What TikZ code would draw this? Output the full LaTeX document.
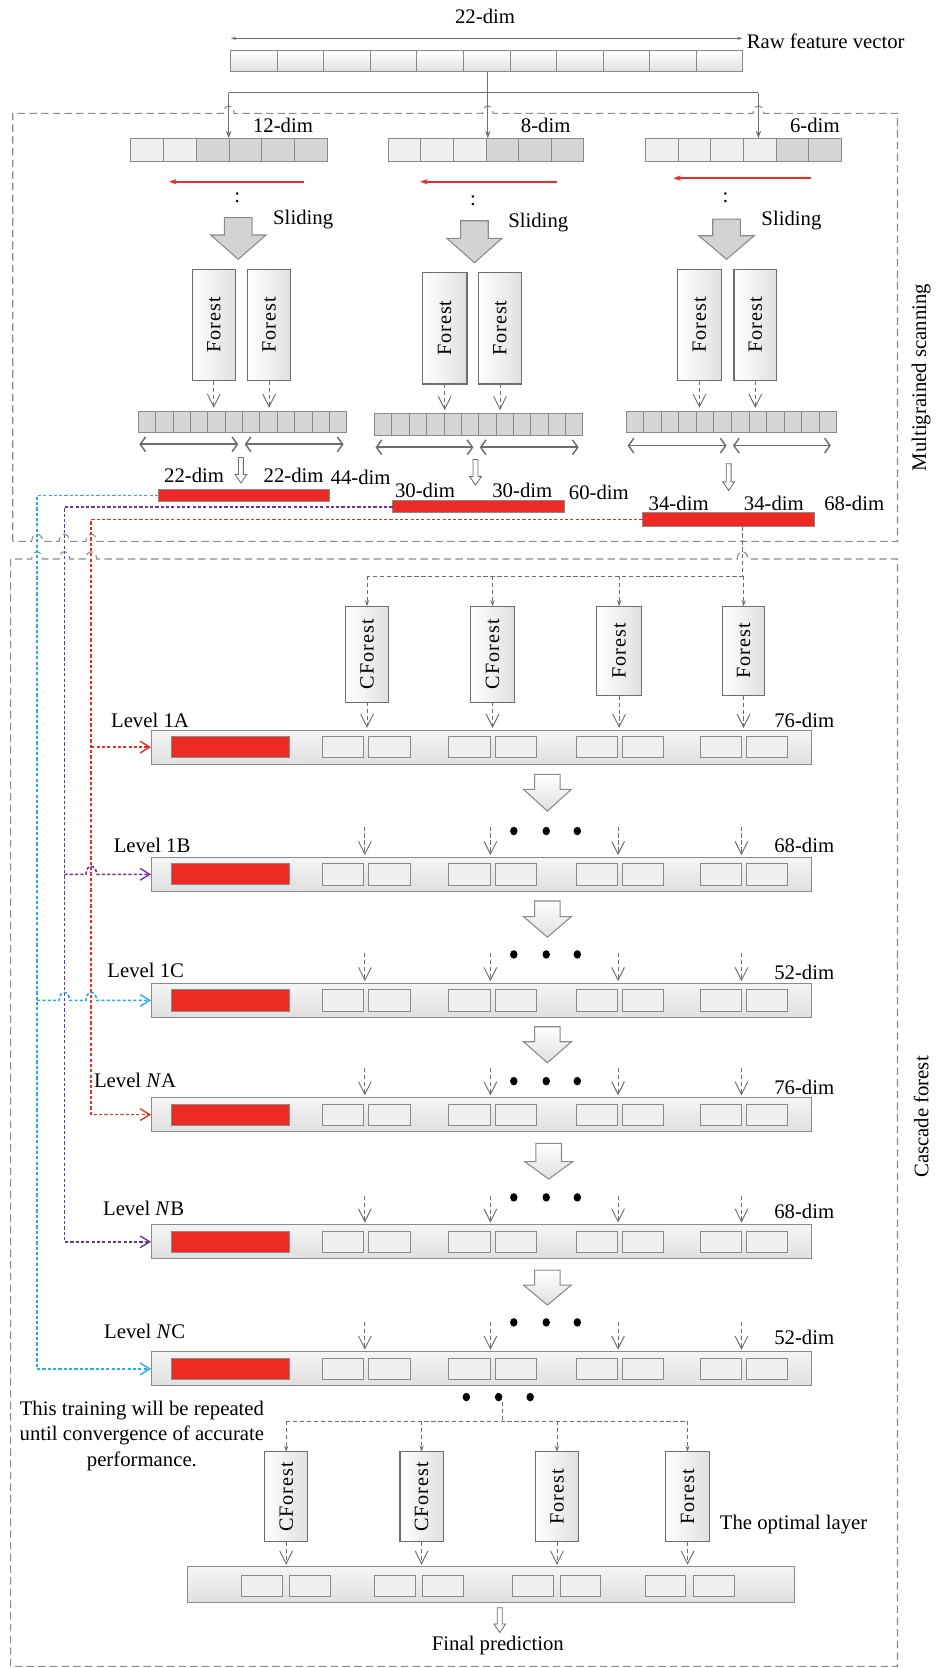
\documentclass[tikz,border=0pt]{standalone}
\usepackage{graphicx}
\usepackage{fontspec}
\setmainfont{Liberation Serif}
\newfontfamily\boxfont{Liberation Serif}[LetterSpace=5]
\usetikzlibrary{arrows.meta,calc}
\definecolor{cyanl}{HTML}{22AEE8}
\definecolor{purpl}{HTML}{7030A0}
\definecolor{redl}{HTML}{EE2A24}
\definecolor{bord}{HTML}{8A8A8A}
\definecolor{dbord}{HTML}{6E6E6E}
\definecolor{darkc}{HTML}{D6D6D6}
\definecolor{lightc}{HTML}{F0F0F0}
\definecolor{lightc2}{HTML}{E0E0E0}
\definecolor{blockf}{HTML}{D3D3D3}
\newcommand{\blockarr}[7]{\draw[#7] (#1-#5,#2) -- (#1+#5,#2) -- (#1+#5,#3) -- (#1+#6,#3) -- (#1,#4) -- (#1-#6,#3) -- (#1-#5,#3) -- cycle;}
\newcommand{\hollowarr}[3]{\draw[dbord, line width=0.8pt, fill=white] (#1-2.3,#2) -- (#1+2.3,#2) -- (#1+2.3,#3-8) -- (#1+5.5,#3-8) -- (#1,#3) -- (#1-5.5,#3-8) -- (#1-2.3,#3-8) -- cycle;}
\newcommand{\lvlrow}[2]{%
  \node[lvlbar] (#1) at (452.5,#2) {};
  \node[redr, minimum width=110.5pt, minimum height=20pt] (#1r) at (216.8,#2) {};
  \foreach \xx [count=\j] in {322.5,366.2,441.5,485.2,561,604.5,677.5,721} {\node[sbox] (#1s\j) at (\xx,#2) {};}
}
\newcommand{\lvlin}[2]{%
  \foreach \xx in {343,461,581,697} {\draw[gdash,vtip,shorten >=2pt] (\xx,#2) -- (\xx,#2 |- #1.north);}
}
\newcommand{\threedots}[4]{%
  \fill (#1,#4) ellipse (3.5pt and 4pt);
  \fill (#2,#4) ellipse (3.5pt and 4pt);
  \fill (#3,#4) ellipse (3.5pt and 4pt);
}
\begin{document}
\begin{tikzpicture}[x=1pt,y=-1pt,
  every node/.style={inner sep=0pt, outer sep=0pt},
  lab/.style={font=\fontsize{19.5}{22}\selectfont},
  cellL/.style={draw=bord, line width=0.8pt, top color=white, bottom color=lightc2},
  cellD/.style={draw=bord, line width=0.8pt, fill=darkc},
  vbox/.style={draw=dbord, line width=1.1pt, left color=white, right color=lightc2, font=\boxfont\fontsize{19}{22}\selectfont},
  lvlbar/.style={draw=bord, line width=1pt, top color=white!96!black, bottom color=lightc2, minimum width=621pt, minimum height=32pt},
  redr/.style={draw=bord, line width=0.9pt, fill=redl},
  sbox/.style={draw=bord, line width=0.8pt, fill=lightc, minimum width=39pt, minimum height=20pt},
  gdash/.style={draw=dbord, line width=0.9pt, dash pattern=on 4pt off 2.5pt},
  boxdash/.style={draw=bord, line width=1pt, dash pattern=on 7pt off 4pt},
  vtip/.style={-{Straight Barb[length=12pt,width=12pt,line width=0.9pt]}},
  ftip/.style={-{Stealth[length=7pt,width=5pt]}},
  colline/.style={line width=1.5pt, dash pattern=on 3pt off 2pt, -{Straight Barb[length=9pt,width=11pt,line width=1.3pt]}},
  dblarr/.style={draw=dbord, line width=1.6pt, {Straight Barb[length=5pt,width=14pt,line width=1.4pt]}-{Straight Barb[length=5pt,width=14pt,line width=1.4pt]}},
  bigarrA/.style={draw=bord, line width=1pt, fill=blockf},
  bigarrB/.style={draw=bord, line width=1pt, top color=white, bottom color=lightc2}
]
\useasboundingbox (0,0) rectangle (879,1568);

% ---------- dashed frames ----------
\draw[boxdash] (12,509) -- (12,106.6) -- (210,106.6) .. controls (210,97.5) and (220,97.5) .. (220,106.6)
  -- (453.6,106.6) .. controls (453.6,97.5) and (463.6,97.5) .. (463.6,106.6)
  -- (708,106.6) .. controls (708,97.5) and (718,97.5) .. (718,106.6)
  -- (843.7,106.6) -- (843.7,509)
  -- (90.8,509) .. controls (90.8,500) and (80.8,500) .. (80.8,509)
  -- (65.5,509) .. controls (65.5,500) and (55.5,500) .. (55.5,509)
  -- (39.8,509) .. controls (39.8,500) and (29.8,500) .. (29.8,509) -- cycle;
\draw[boxdash] (10,1566.5) -- (10,525.5) -- (29.8,525.5) .. controls (29.8,516.5) and (39.8,516.5) .. (39.8,525.5)
  -- (55.5,525.5) .. controls (55.5,516.5) and (65.5,516.5) .. (65.5,525.5)
  -- (80.8,525.5) .. controls (80.8,516.5) and (90.8,516.5) .. (90.8,525.5)
  -- (693,525.5) .. controls (693,516.5) and (703,516.5) .. (703,525.5)
  -- (843.7,525.5) -- (843.7,1566.5) -- cycle;
\node[lab, rotate=90] (msl) at (866,355) {Multigrained scanning};
\node[lab, rotate=90] (cfl) at (866,1050) {Cascade forest};

% ---------- raw feature vector ----------
\node[lab] (d22) at (456,15.5) {22-dim};
\coordinate (tl) at (217,36);
\coordinate (tr) at (698,36);
\draw[dbord, line width=1pt, {Stealth[length=5pt,width=3pt]}-{Stealth[length=5pt,width=3pt]}] (tl) -- (tr);
\node[lab, anchor=west] (rfv) at (702,39) {Raw feature vector};
\foreach \k in {0,...,10} {\node[cellL, minimum width=43.73pt, minimum height=19.5pt] (rw\k) at (217+43.73*\k+21.865,57.5) {};}
\node[minimum width=481pt, minimum height=19.5pt] (raw) at (457.5,57.5) {};
\coordinate (jn) at (458.6,87);
\coordinate (jl) at (215,87);
\coordinate (jr) at (713,87);
\draw[dbord, line width=1.2pt] (raw.south -| jn) -- (jn);
\draw[dbord, line width=1.2pt] (jl) -- (jr);

% ---------- three windows ----------
\foreach \k in {0,...,5} {
  \ifnum\k<2 \def\fc{lightc}\else\def\fc{darkc}\fi
  \node[draw=bord, line width=0.8pt, fill=\fc, minimum width=30.8pt, minimum height=22pt] (sa\k) at (123+\k*30.8+15.4,141) {};
}
\foreach \k in {0,...,5} {
  \ifnum\k<3 \def\fc{lightc}\else\def\fc{darkc}\fi
  \node[draw=bord, line width=0.8pt, fill=\fc, minimum width=30.6pt, minimum height=22pt] (sb\k) at (365+\k*30.6+15.3,141) {};
}
\foreach \k in {0,...,5} {
  \ifnum\k<4 \def\fc{lightc}\else\def\fc{darkc}\fi
  \node[draw=bord, line width=0.8pt, fill=\fc, minimum width=30.6pt, minimum height=22pt] (sc\k) at (607+\k*30.6+15.3,141) {};
}
\draw[dbord, line width=1.2pt, ftip] (jl) -- (jl |- sa0.north);
\draw[dbord, line width=1.2pt, ftip] (jn) -- (jn |- sb0.north);
\draw[dbord, line width=1.2pt, ftip] (jr) -- (jr |- sc0.north);
\node[lab] (l12) at (266,117.5) {12-dim};
\node[lab] (l8) at (513,117.5) {8-dim};
\node[lab] (l6) at (766,117.5) {6-dim};

% red sliding arrows
\draw[redl, line width=1.8pt, -{Stealth[length=7pt,width=5pt]}] (286,170.8) -- (159,170.8);
\draw[redl, line width=1.8pt, -{Stealth[length=7pt,width=5pt]}] (524,170.8) -- (395,170.8);
\draw[redl, line width=1.8pt, -{Stealth[length=7pt,width=5pt]}] (762,167.5) -- (633,167.5);
\node[lab] (ca) at (223,186) {:};
\node[lab] (cb) at (444.6,189) {:};
\node[lab] (cc) at (682,186) {:};

% sliding block arrows
\blockarr{224}{204.6}{220.9}{243.8}{13}{26}{bigarrA}
\blockarr{446}{207.5}{224}{247}{13}{26}{bigarrA}
\blockarr{683}{206}{221.6}{243.8}{13}{26}{bigarrA}
\node[lab] (sla) at (285,206) {Sliding};
\node[lab] (slb) at (506,209) {Sliding};
\node[lab] (slc) at (744,207) {Sliding};

% forest boxes of scanning
\node[vbox, minimum width=40pt, minimum height=105pt] (fa1) at (201,305.5) {\rotatebox{90}{Forest}};
\node[vbox, minimum width=40pt, minimum height=105pt] (fa2) at (253,305.5) {\rotatebox{90}{Forest}};
\node[vbox, minimum width=42pt, minimum height=105pt] (fb1) at (418,308.5) {\rotatebox{90}{Forest}};
\node[vbox, minimum width=41pt, minimum height=105pt] (fb2) at (470,308.5) {\rotatebox{90}{Forest}};
\node[vbox, minimum width=41pt, minimum height=105pt] (fc1) at (657.5,305.5) {\rotatebox{90}{Forest}};
\node[vbox, minimum width=40pt, minimum height=105pt] (fc2) at (710,305.5) {\rotatebox{90}{Forest}};

% long output vectors
\foreach \k in {0,...,11} {\node[cellD, minimum width=16.33pt, minimum height=20pt] (va\k) at (130+16.33*\k+8.165,396.4) {};}
\foreach \k in {0,...,11} {\node[cellD, minimum width=16.33pt, minimum height=21pt] (vb\k) at (352+16.33*\k+8.165,399.1) {};}
\foreach \k in {0,...,11} {\node[cellD, minimum width=16.5pt, minimum height=20pt] (vc\k) at (588.6+16.5*\k+8.25,396.4) {};}
\foreach \f in {fa1,fa2} {\draw[gdash,vtip,shorten >=3pt] (\f.south) -- (\f.south |- va0.north);}
\foreach \f in {fb1,fb2} {\draw[gdash,vtip,shorten >=3pt] (\f.south) -- (\f.south |- vb0.north);}
\foreach \f in {fc1,fc2} {\draw[gdash,vtip,shorten >=3pt] (\f.south) -- (\f.south |- vc0.north);}

% double arrows
\draw[dblarr] (131,417.7) -- (224,417.7);
\draw[dblarr] (230,417.7) -- (323,417.7);
\draw[dblarr] (353,420.5) -- (445,420.5);
\draw[dblarr] (451,420.5) -- (544,420.5);
\draw[dblarr] (590,418.9) -- (683,418.9);
\draw[dblarr] (689,418.9) -- (781,418.9);

% hollow arrows
\hollowarr{226.5}{430}{454}
\hollowarr{447}{432}{456}
\hollowarr{685}{436}{461}

% concatenated red bars
\node[redr, minimum width=161.4pt, minimum height=11.5pt] (rbL) at (229.3,465.7) {};
\node[redr, minimum width=162pt, minimum height=11.5pt] (rbM) at (450,476.4) {};
\node[redr, minimum width=162pt, minimum height=12.5pt] (rbR) at (685,488.3) {};
\node[lab] (da1) at (182.5,447) {22-dim};
\node[lab] (da2) at (276,447) {22-dim};
\node[lab] (da3) at (339,449) {44-dim};
\node[lab] (db1) at (399.5,461) {30-dim};
\node[lab] (db2) at (491,461) {30-dim};
\node[lab] (db3) at (563,463) {60-dim};
\node[lab] (dc1) at (638,473) {34-dim};
\node[lab] (dc2) at (727.5,473) {34-dim};
\node[lab] (dc3) at (803,473) {68-dim};

% ---------- cascade forest ----------
\node[vbox, minimum width=40.4pt, minimum height=90pt] (cfa) at (345,615) {\rotatebox{90}{CForest}};
\node[vbox, minimum width=42pt, minimum height=90pt] (cfb) at (463,615) {\rotatebox{90}{CForest}};
\node[vbox, minimum width=42pt, minimum height=84pt] (cfc) at (582,612) {\rotatebox{90}{Forest}};
\node[vbox, minimum width=40pt, minimum height=84pt] (cfd) at (699,612) {\rotatebox{90}{Forest}};
\coordinate (t0) at (698,495);
\coordinate (hb) at (698,541.5);
\draw[gdash] (t0) -- (hb) -- (hb -| cfa.north);
\foreach \n in {cfa,cfb,cfc,cfd} {\draw[gdash, -{Stealth[length=6pt,width=4pt]}] (hb -| \n.north) -- (\n.north);}

% coloured feedback lines
\coordinate (cx) at (34.8,0);
\coordinate (px) at (60.5,0);
\coordinate (rx) at (85.8,0);

\lvlrow{la}{702.3}
\lvlrow{lb}{821.9}
\lvlrow{lc}{940.4}
\lvlrow{lna}{1047.8}
\lvlrow{lnb}{1167.3}
\lvlrow{lnc}{1286.8}

\draw[cyanl, colline] (rbL.west) -- (rbL.west -| cx) |- (lnc.west);
\draw[purpl, colline] (rbM.west) -- (rbM.west -| px) |- (lnb.west);
\draw[redl, colline] (rbR.west) -- (rbR.west -| rx) |- (lna.west);
\draw[redl, colline] (la.west -| rx) -- (la.west);
\draw[purpl, colline] (lb.west -| px) -- (80.8,821.9) .. controls (80.8,812) and (90.8,812) .. (90.8,821.9) -- (lb.west);
\draw[cyanl, colline] (lc.west -| cx) -- (55.5,940.4) .. controls (55.5,930.5) and (65.5,930.5) .. (65.5,940.4) -- (80.8,940.4) .. controls (80.8,930.5) and (90.8,930.5) .. (90.8,940.4) -- (lc.west);

% inputs of level 1A
\foreach \n in {cfa,cfb,cfc,cfd} {\draw[gdash,vtip,shorten >=2pt] (\n.south) -- (\n.south |- la.north);}
\lvlin{lb}{777}
\lvlin{lc}{896}
\lvlin{lna}{1004}
\lvlin{lnb}{1124}
\lvlin{lnc}{1242.5}

\threedots{483}{513.5}{542.7}{781.2}
\threedots{483}{513.5}{542.7}{897.2}
\threedots{483}{513.5}{542.7}{1016.3}
\threedots{483}{513.5}{542.7}{1125.6}
\threedots{483}{513.5}{542.7}{1243.1}

\blockarr{514.6}{728}{742}{762.5}{12}{22.5}{bigarrB}
\blockarr{514.6}{847}{861.6}{881}{12}{22.5}{bigarrB}
\blockarr{514.6}{965.2}{979.3}{999}{12}{22.5}{bigarrB}
\blockarr{515.8}{1074.9}{1092}{1108.4}{12}{22.5}{bigarrB}
\blockarr{514.6}{1193.9}{1208}{1226.8}{12}{22.5}{bigarrB}

\node[lab] (n1a) at (141,677) {Level 1A};
\node[lab] (n1b) at (143,795) {Level 1B};
\node[lab] (n1c) at (137,912) {Level 1C};
\node[lab] (nna) at (127,1016) {Level \textit{N}A};
\node[lab] (nnb) at (135,1136) {Level \textit{N}B};
\node[lab] (nnc) at (136,1252) {Level \textit{N}C};
\node[lab] (m1) at (756,677) {76-dim};
\node[lab] (m2) at (756,795) {68-dim};
\node[lab] (m3) at (756,914) {52-dim};
\node[lab] (m4) at (756,1022.5) {76-dim};
\node[lab] (m5) at (756,1139) {68-dim};
\node[lab] (m6) at (756,1257.5) {52-dim};

% ---------- optimal layer ----------
\threedots{438.4}{468.7}{498.4}{1313.3}
\node[vbox, minimum width=40pt, minimum height=84.6pt] (oa) at (269,1407.1) {\rotatebox{90}{CForest}};
\node[vbox, minimum width=40.5pt, minimum height=84.6pt] (ob) at (396.3,1407.1) {\rotatebox{90}{CForest}};
\node[vbox, minimum width=40.4pt, minimum height=84.6pt] (oc) at (523.6,1407.1) {\rotatebox{90}{Forest}};
\node[vbox, minimum width=41pt, minimum height=84.6pt] (od) at (646.3,1407.1) {\rotatebox{90}{Forest}};
\coordinate (bt) at (472,1318);
\coordinate (bh) at (472,1335.8);
\draw[gdash] (bt) -- (bh);
\draw[gdash] (bh -| oa.north) -- (bh -| od.north);
\foreach \n in {oa,ob,oc,od} {\draw[gdash, -{Stealth[length=6pt,width=4pt]}] (bh -| \n.north) -- (\n.north);}
\node[draw=bord, line width=1pt, top color=white!96!black, bottom color=lightc2, minimum width=570pt, minimum height=33.8pt] (fin) at (461.65,1489.8) {};
\foreach \xx [count=\j] in {246.3,291.5,371.3,416.3,501,545.7,625.3,671} {\node[sbox, minimum width=38pt, minimum height=19.7pt] (fs\j) at (\xx,1490.5) {};}
\foreach \n in {oa,ob,oc,od} {\draw[gdash,vtip,shorten >=2pt] (\n.south) -- (\n.south |- fin.north);}
\node[lab] (opt) at (746,1432.8) {The optimal layer};
\node[lab, align=center, font=\fontsize{19.5}{24.3}\selectfont] (note) at (133.4,1349.8) {This training will be repeated\\until convergence of accurate\\performance.};
\hollowarr{469.8}{1511.4}{1534.6}
\node[lab] (fp) at (468,1547.2) {Final prediction};
\end{tikzpicture}
\end{document}
